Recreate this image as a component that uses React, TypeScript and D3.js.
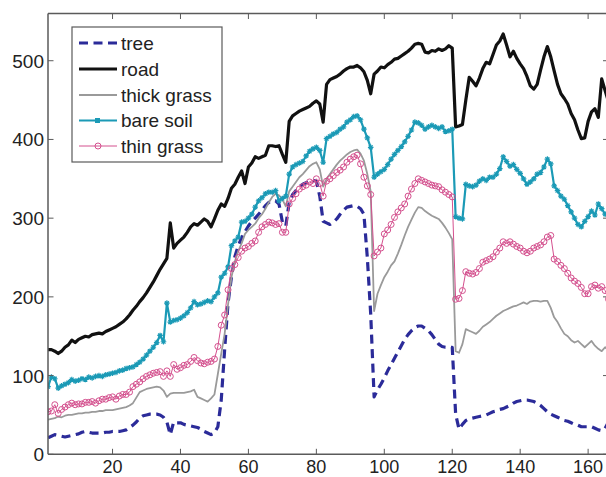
import React from "react";
import * as d3 from "d3";

const tree = [
  21, 23, 25, 24, 23, 22, 23, 24, 25, 26,
  28, 29, 28, 27, 27, 27, 27, 28, 28, 29,
  29, 29, 30, 31, 34, 37, 41, 46, 49, 50,
  51, 51, 51, 50, 47, 41, 25, 41, 40, 40,
  38, 37, 36, 35, 34, 32, 29, 27, 25, 27,
  35, 69, 133, 192, 225, 251, 265, 275, 283, 290,
  296, 300, 305, 310, 316, 320, 322, 322, 318, 295,
  290, 320, 330, 335, 340, 343, 345, 347, 348, 347,
  328, 296, 294, 292, 295, 299, 305, 310, 314, 315,
  316, 315, 312, 305, 250, 178, 73, 82, 89, 97,
  106, 114, 122, 130, 138, 146, 152, 157, 161, 163,
  163, 160, 157, 152, 146, 140, 137, 136, 136, 136,
  51, 32, 38, 43, 45, 46, 47, 48, 49, 50,
  52, 54, 55, 57, 58, 60, 62, 65, 67, 68,
  69, 69, 68, 67, 65, 62, 58, 54, 51, 49,
  47, 45, 43, 42, 40, 38, 37, 35, 35, 35,
  35, 33, 31, 30, 33, 41,
];

const road = [
  133, 133, 131, 128, 131, 136, 139, 145, 142, 146,
  148, 150, 149, 152, 153, 154, 153, 156, 158, 160,
  162, 165, 168, 172, 177, 183, 188, 194, 199, 205,
  212, 219, 227, 235, 242, 249, 294, 262, 268, 272,
  276, 282, 289, 293, 291, 295, 299, 296, 289, 299,
  310, 318, 315, 325, 338, 343, 352, 360, 344, 365,
  370, 378, 376, 378, 380, 392, 392, 391, 392, 381,
  371, 423, 430, 433, 436, 438, 440, 442, 446, 449,
  445, 422, 470, 476, 478, 480, 483, 487, 490, 492,
  492, 494, 491, 486, 475, 458, 483, 487, 492, 491,
  495, 498, 502, 503, 506, 509, 512, 516, 521, 522,
  521, 511, 510, 513, 512, 515, 513, 515, 519, 516,
  416, 417, 419, 450, 479, 474, 468, 478, 490, 498,
  496, 508, 520, 525, 534, 520, 505, 512, 503, 496,
  490, 480, 468, 464, 470, 488, 505, 518, 505, 487,
  470, 458, 452, 445, 433, 425, 412, 401, 402, 423,
  435, 439, 428, 477, 462, 448,
];

const thickGrass = [
  44, 45, 46, 48, 47, 49, 50, 50, 51, 52,
  52, 53, 53, 54, 54, 55, 55, 56, 56, 56,
  57, 58, 59, 60, 62, 65, 72, 79, 81, 83,
  84, 85, 86, 85, 81, 73, 77, 78, 78, 78,
  78, 79, 80, 82, 73, 71, 69, 67, 71, 76,
  102, 128, 153, 190, 225, 245, 258, 268, 280, 285,
  289, 293, 300, 305, 312, 320, 327, 331, 329, 324,
  315, 334, 340, 346, 352, 356, 361, 366, 369, 371,
  362, 340, 350, 356, 362, 368, 373, 377, 381, 384,
  386, 387, 382, 373, 356, 334, 182, 204, 215, 225,
  232, 240, 245, 255, 266, 278, 289, 298, 307, 314,
  313, 309, 306, 303, 301, 299, 294, 288, 281, 273,
  131, 129, 140, 159, 157, 155, 153, 157, 162, 165,
  168, 172, 176, 179, 182, 184, 186, 188, 189, 191,
  193, 191, 194, 195, 195, 194, 195, 195, 186, 174,
  168, 160, 153, 150, 145, 142, 144, 140, 136, 140,
  144, 138, 134, 131, 136, 132,
];

const bareSoil = [
  86, 98, 96, 84, 87, 89, 91, 95, 93, 94,
  96, 95, 98, 97, 99, 100, 99, 101, 102, 103,
  104, 106, 107, 109, 110, 111, 114, 117, 121, 126,
  131, 136, 142, 151, 143, 192, 168, 170, 171, 173,
  176, 180, 186, 194, 190, 191, 193, 195, 194, 200,
  205, 225, 230, 238, 265, 271, 276, 295, 296, 300,
  305, 314, 322, 326, 331, 333, 333, 335, 322, 325,
  328, 356, 365, 368, 370, 372, 379, 385, 388, 390,
  386, 371, 401, 404, 407, 409, 413, 416, 422, 425,
  429, 430, 425, 413, 402, 390, 352, 356, 359, 362,
  368, 375, 381, 386, 391, 397, 404, 412, 422, 421,
  418, 413, 416, 418, 416, 414, 416, 410, 411, 413,
  302, 300, 299, 343, 341, 340, 342, 347, 350, 348,
  352, 352, 356, 363, 378, 372, 366, 368, 362, 357,
  350, 343, 346, 350, 356, 358, 365, 375, 369, 341,
  335, 328, 324, 316, 308, 300, 292, 289, 296, 302,
  309, 304, 318, 312, 305, 308,
];

const thinGrass = [
  54, 55, 63, 52, 57, 60, 63, 65, 63, 64,
  64, 66, 66, 67, 65, 68, 70, 70, 72, 73,
  70, 74, 76, 76, 79, 86, 89, 92, 96, 99,
  101, 103, 104, 105, 99, 106, 99, 114, 108, 110,
  113, 114, 118, 123, 119, 116, 115, 117, 118, 121,
  137, 164, 177, 209, 236, 241, 250, 258, 262, 264,
  268, 271, 282, 289, 292, 295, 294, 292, 293, 282,
  282, 318, 325, 331, 337, 340, 342, 346, 344, 350,
  344, 328, 347, 350, 354, 358, 361, 365, 371, 375,
  378, 380, 369, 352, 341, 330, 252, 257, 262, 280,
  285, 292, 301, 308, 313, 318, 328, 337, 344, 350,
  348, 346, 344, 342, 341, 340, 336, 333, 330, 327,
  197, 198, 208, 232, 230, 229, 231, 236, 244, 246,
  248, 251, 257, 262, 270, 268, 270, 267, 264, 262,
  258, 256, 258, 262, 264, 266, 270, 276, 278, 248,
  245, 240, 236, 230, 224, 220, 217, 212, 204, 204,
  213, 215, 211, 213, 208, 197,
];

const seriesNames = ["tree", "road", "thick grass", "bare soil", "thin grass"];
const xTicks = [20, 40, 60, 80, 100, 120, 140, 160];
const yTicks = [0, 100, 200, 300, 400, 500];

const W = 606;
const H = 477;
const left = 48;
const right = 608.5;
const top = 13.5;
const bottom = 454.3;

const FONT = "'Liberation Sans', Arial, Helvetica, sans-serif";

export default function App() {
  const x = d3.scaleLinear().domain([1, 166]).range([left, right]);
  const y = d3.scaleLinear().domain([0, 560]).range([bottom, top]);

  const mk = (arr: number[]) => arr.map((v, i) => [i + 1, v] as [number, number]);
  const line = d3
    .line<[number, number]>()
    .x((d) => x(d[0]))
    .y((d) => y(d[1]));

  const styles = [
    { data: tree, color: "#2b2b99", width: 3.2, dash: "9,5.5", marker: "none" },
    { data: road, color: "#111111", width: 3.2, dash: "", marker: "none" },
    { data: thickGrass, color: "#9a9a9a", width: 1.8, dash: "", marker: "none" },
    { data: bareSoil, color: "#1b9ab6", width: 2.2, dash: "", marker: "star" },
    { data: thinGrass, color: "#d4508e", width: 1, dash: "", marker: "circle" },
  ];

  const star = (cx: number, cy: number, r: number) =>
    `M${cx - r},${cy}L${cx + r},${cy}M${cx},${cy - r}L${cx},${cy + r}` +
    `M${cx - r * 0.7},${cy - r * 0.7}L${cx + r * 0.7},${cy + r * 0.7}` +
    `M${cx - r * 0.7},${cy + r * 0.7}L${cx + r * 0.7},${cy - r * 0.7}`;

  const legendRowsY = [43, 69, 95, 120.5, 146];
  const axisColor = "#5a5a5a";

  return (
    <svg
      width={W}
      height={H}
      style={{ position: "absolute", left: 0, top: 0, background: "#fff" }}
      fontFamily={FONT}
    >
      <rect x={0} y={0} width={W} height={H} fill="#fff" />
      <defs>
        <clipPath id="plotClip">
          <rect x={left} y={top} width={right - left} height={bottom - top} />
        </clipPath>
      </defs>

      <g clipPath="url(#plotClip)">
        {styles.map((s, k) => (
          <g key={k}>
            <path
              d={line(mk(s.data)) || ""}
              fill="none"
              stroke={s.color}
              strokeWidth={s.width}
              strokeDasharray={s.dash || undefined}
              strokeLinejoin="round"
            />
            {s.marker === "star" &&
              mk(s.data).map((d, i) => (
                <path
                  key={i}
                  d={star(x(d[0]), y(d[1]), 2.8)}
                  stroke={s.color}
                  strokeWidth={1.2}
                  fill="none"
                />
              ))}
            {s.marker === "circle" &&
              mk(s.data).map((d, i) => (
                <circle
                  key={i}
                  cx={x(d[0])}
                  cy={y(d[1])}
                  r={3}
                  stroke={s.color}
                  strokeWidth={1}
                  fill="none"
                />
              ))}
          </g>
        ))}
      </g>

      {/* axes */}
      <line x1={left} y1={top} x2={left} y2={bottom} stroke={axisColor} strokeWidth={1.5} />
      <line x1={left} y1={bottom} x2={right} y2={bottom} stroke={axisColor} strokeWidth={1.5} />
      <line x1={left} y1={top} x2={right} y2={top} stroke={axisColor} strokeWidth={1.5} />
      <line x1={right} y1={top} x2={right} y2={bottom} stroke={axisColor} strokeWidth={1.5} />

      {xTicks.map((t) => (
        <g key={"x" + t}>
          <line x1={x(t)} x2={x(t)} y1={bottom} y2={bottom - 5.5} stroke={axisColor} strokeWidth={1} />
          <line x1={x(t)} x2={x(t)} y1={top} y2={top + 5.5} stroke={axisColor} strokeWidth={1} />
          <text x={x(t)} y={473} textAnchor="middle" fontSize={18} fill="#222">
            {t}
          </text>
        </g>
      ))}
      {yTicks.map((t) => (
        <g key={"y" + t}>
          <line x1={left} x2={left + 5.5} y1={y(t)} y2={y(t)} stroke={axisColor} strokeWidth={1} />
          <line x1={right - 5.5} x2={right} y1={y(t)} y2={y(t)} stroke={axisColor} strokeWidth={1} />
          <text x={44} y={y(t) + 7} textAnchor="end" fontSize={19} fill="#222">
            {t}
          </text>
        </g>
      ))}

      {/* legend */}
      <rect x={72} y={27} width={150} height={135} fill="#fff" stroke={axisColor} strokeWidth={1.2} />
      {styles.map((s, k) => {
        const ly = legendRowsY[k];
        return (
          <g key={"l" + k}>
            <line
              x1={79}
              x2={117}
              y1={ly}
              y2={ly}
              stroke={s.color}
              strokeWidth={s.width}
              strokeDasharray={s.dash || undefined}
            />
            {s.marker === "star" && <rect x={95} y={ly - 2.5} width={5} height={5} fill={s.color} />}
            {s.marker === "circle" && (
              <circle cx={98} cy={ly} r={3} fill="none" stroke={s.color} strokeWidth={1} />
            )}
            <text x={121} y={ly + 6.5} fontSize={19} fill="#222">
              {seriesNames[k]}
            </text>
          </g>
        );
      })}
    </svg>
  );
}
